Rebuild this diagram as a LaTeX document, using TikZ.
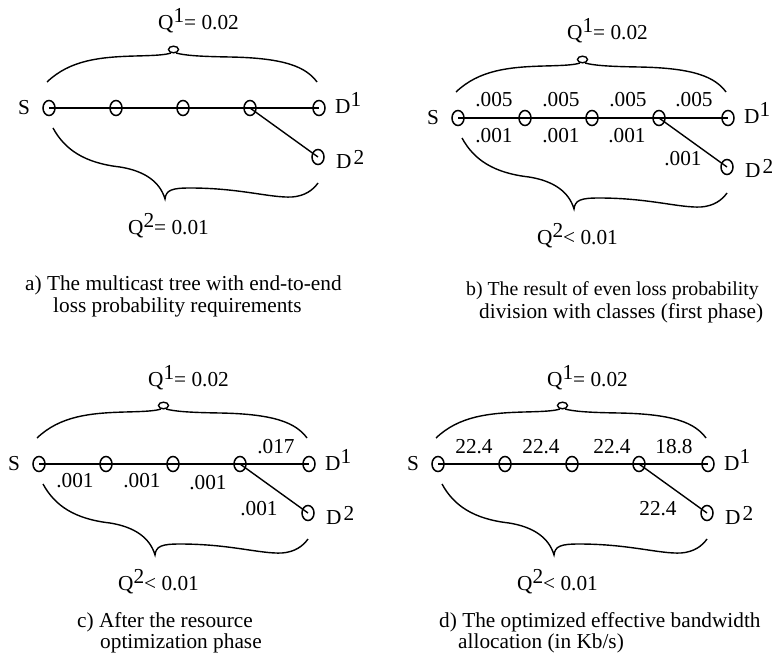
\documentclass[tikz,border=0pt]{standalone}
\usepackage{fontspec}
\setmainfont{Liberation Serif}
\usetikzlibrary{shapes.geometric}

% raised full-size index, as in Q^1 and D^2
\newcommand\sups[2][7pt]{\raisebox{#1}{#2}}

\tikzset{
  every node/.style={font=\fontsize{21.3}{25}\selectfont, inner sep=0pt},
  hop/.style={draw, ellipse, line width=1.5pt, minimum width=12pt, minimum height=15pt},
  link/.style={line width=1.4pt},
  brace/.style={line width=1.4pt},
  txt/.style={anchor=base west},
}

% one multicast tree: source, three relays, two destinations, both braces
\newcommand\mctree[2]{%
  \node[hop] (#1S)  at (49,108)  {};
  \node[hop] (#1n2) at (116,108) {};
  \node[hop] (#1n3) at (183,108) {};
  \node[hop] (#1n4) at (250,108) {};
  \node[hop] (#1D1) at (319,108) {};
  \node[hop] (#1D2) at (318,157) {};
  \draw[link] (#1S.center) -- (#1n2.center);
  \draw[link] (#1n2.center) -- (#1n3.center);
  \draw[link] (#1n3.center) -- (#1n4.center);
  \draw[link] (#1n4.center) -- (#1D1.center);
  \draw[link] (#1n4.center) -- (#1D2.center);
  \node (#1Slab) at (24,108) {S};
  \node[txt] (#1D1lab) at (335,114) {D\sups{1}};
  \node[txt] (#1D2lab) at (336,168) {D\kern2pt\sups[4pt]{2}};
  % upper brace with its small loop
  \draw[brace] (47,82) .. controls (70,60) and (100,57) .. (135,56)
               .. controls (155,55.5) and (165,55) .. (171,53);
  \draw[brace] (173.5,49.5) ellipse [x radius=5, y radius=3.3];
  \draw[brace] (176,53) .. controls (185,55.5) and (200,56.5) .. (230,57)
               .. controls (285,58) and (306,67) .. (317,82);
  % lower brace
  \draw[brace] (53,128) .. controls (65,150) and (85,163) .. (120,167)
               .. controls (145,171) and (160,182) .. (165,199)
               .. controls (166,190) and (172,188) .. (190,188)
               .. controls (240,188) and (270,198) .. (292,197)
               .. controls (305,196) and (313,190) .. (318,183);
  \node[txt] (#1Q1) at (158,30) {Q\sups{1}= 0.02};
  \node[txt] (#1Q2) at (128,234) {Q\sups{2}#2 0.01};
}

\begin{document}
\begin{tikzpicture}[x=1pt, y=-1pt]
\useasboundingbox (0,0) rectangle (773,655);

% a) requirements
\begin{scope}
  \mctree{a}{=}
\end{scope}
\node[txt] (capa1) at (25,290) {a) The multicast tree with end-to-end};
\node[txt] (capa2) at (53,312) {loss probability requirements};

% b) even division per class
\begin{scope}[shift={(409,10)}]
  \mctree{b}{<}
  \node (b1t) at (85,90)  {.005};
  \node (b2t) at (152,90) {.005};
  \node (b3t) at (219,90) {.005};
  \node (b4t) at (285,90) {.005};
  \node (b1b) at (85,125.5)  {.001};
  \node (b2b) at (152,125.5) {.001};
  \node (b3b) at (218,125.5) {.001};
  \node (b5b) at (274,149) {.001};
\end{scope}
\node[txt, font=\fontsize{19.8}{25}\selectfont] (capb1) at (466,295) {b) The result of even loss probability};
\node[txt] (capb2) at (479,318) {division with classes (first phase)};

% c) after optimization
\begin{scope}[shift={(-10,356)}]
  \mctree{c}{<}
  \node (c1b) at (85,125)  {.001};
  \node (c2b) at (152,125) {.001};
  \node (c3b) at (218,127) {.001};
  \node (c4t) at (286,91)  {.017};
  \node (c5b) at (269,153) {.001};
\end{scope}
\node[txt] (capc1) at (77,627)  {c) After the resource};
\node[txt] (capc2) at (100,648) {optimization phase};

% d) effective bandwidth
\begin{scope}[shift={(389,356)}]
  \mctree{d}{<}
  \node (d1t) at (85,91)  {22.4};
  \node (d2t) at (152,91) {22.4};
  \node (d3t) at (223,91) {22.4};
  \node (d4t) at (285,91) {18.8};
  \node (d5b) at (269,153) {22.4};
\end{scope}
\node[txt] (capd1) at (439,627) {d) The optimized effective bandwidth};
\node[txt] (capd2) at (458,648) {allocation (in Kb/s)};
\end{tikzpicture}
\end{document}
